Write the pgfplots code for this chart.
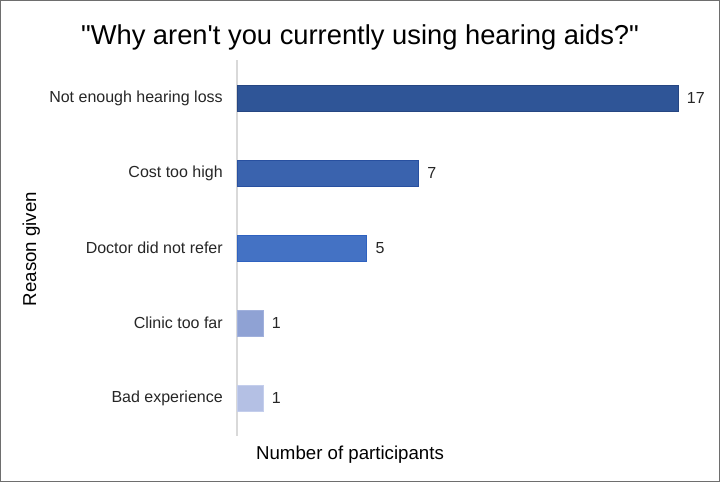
\documentclass[border=0pt]{standalone}
\usepackage{pgfplots}
\pgfplotsset{compat=1.18}
\usepackage{fontspec}
\setmainfont{Liberation Sans}
\newfontfamily\plainfont{Liberation Sans}
\definecolor{c1}{RGB}{47,85,151}
\definecolor{c2}{RGB}{58,99,174}
\definecolor{c3}{RGB}{68,114,196}
\definecolor{c4}{RGB}{143,162,212}
\definecolor{c5}{RGB}{180,192,228}
\definecolor{b1}{RGB}{38,70,130}
\definecolor{b2}{RGB}{40,80,160}
\definecolor{b3}{RGB}{47,98,192}
\definecolor{b4}{RGB}{160,176,220}
\definecolor{b5}{RGB}{196,206,236}
\begin{document}
\begin{tikzpicture}[x=1pt,y=1pt]
\useasboundingbox (0,0) rectangle (540,361.5);
\draw[draw={rgb,255:red,110;green,110;blue,110},line width=0.9pt] (0.45,0.45) rectangle (539.55,361.05);
\begin{axis}[
  at={(177.75pt,34.875pt)}, anchor=south west,
  scale only axis, width=330.75pt, height=281.25pt,
  xmin=0, xmax=17, ymin=-0.5, ymax=4.5,
  xbar, bar width=19.5pt, bar shift=0pt,
  axis x line=none,
  axis y line*=left,
  y axis line style={draw={rgb,255:red,217;green,217;blue,217}, line width=0.8pt, -},
  ytick={0,1,2,3,4},
  yticklabels={Bad experience,Clinic too far,Doctor did not refer,Cost too high,Not enough hearing loss},
  major tick length=0pt,
  yticklabel style={font=\fontsize{12}{14}\selectfont, inner sep=0pt, xshift=-10.5pt, text=black!85},
  clip=false,
  /pgf/number format/assume math mode=true,
  nodes near coords,
  every node near coord/.append style={font=\fontsize{12}{14}\selectfont, anchor=west, xshift=3pt, text=black!85},
]
\addplot[fill=c1, draw=b1, line width=0.6pt] coordinates {(17,4)};
\addplot[fill=c2, draw=b2, line width=0.6pt] coordinates {(7,3)};
\addplot[fill=c3, draw=b3, line width=0.6pt] coordinates {(5,2)};
\addplot[fill=c4, draw=b4, line width=0.6pt] coordinates {(1,1)};
\addplot[fill=c5, draw=b5, line width=0.6pt] coordinates {(1,0)};
\end{axis}
\node[font=\plainfont\fontsize{20.5}{24}\selectfont] at (270,333.75) {"Why aren't you currently using hearing aids?"};
\node[font=\fontsize{14}{16}\selectfont, rotate=90] at (23.5,174.75) {Reason given};
\node[font=\fontsize{14}{16}\selectfont] at (262.5,20.25) {Number of participants};
\end{tikzpicture}
\end{document}
